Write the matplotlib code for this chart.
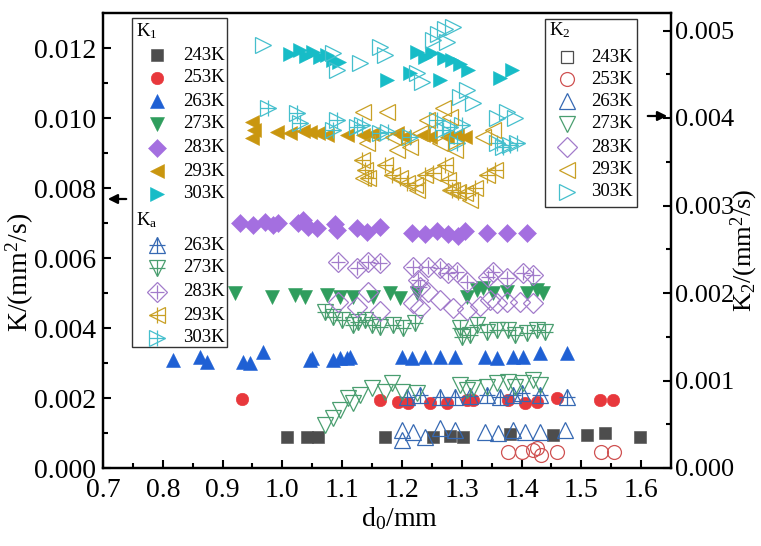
import numpy as np
import matplotlib
matplotlib.use("Agg")
import matplotlib.pyplot as plt
from matplotlib.patches import Rectangle

plt.rcParams['font.family'] = ['Liberation Serif', 'DejaVu Serif']
plt.rcParams['mathtext.fontset'] = 'custom'
plt.rcParams['mathtext.rm'] = 'Liberation Serif'
plt.rcParams['mathtext.it'] = 'Liberation Serif:italic'

temps = ['243K', '253K', '263K', '273K', '283K', '293K', '303K']

# ---- K1 (left axis, filled markers) ----
k1_243_x = [1.008, 1.041, 1.060, 1.172, 1.252, 1.280, 1.302, 1.381, 1.452, 1.509, 1.539, 1.598]
k1_243_y = [0.00089, 0.00089, 0.00089, 0.00089, 0.00089, 0.00091, 0.00089, 0.00097, 0.00094, 0.00094, 0.00100, 0.00089]
k1_253_x = [0.932, 1.163, 1.193, 1.210, 1.247, 1.275, 1.309, 1.319, 1.377, 1.406, 1.426, 1.459, 1.531, 1.553]
k1_253_y = [0.00197, 0.00194, 0.00189, 0.00186, 0.00186, 0.00186, 0.00194, 0.00194, 0.00194, 0.00186, 0.00189, 0.00200, 0.00194, 0.00194]
k1_263_x = [0.817, 0.862, 0.874, 0.934, 0.946, 0.968, 1.046, 1.049, 1.085, 1.096, 1.108, 1.113, 1.200, 1.217, 1.238, 1.264, 1.289, 1.339, 1.359, 1.386, 1.402, 1.431, 1.476]
k1_263_y = [0.00309, 0.00317, 0.00303, 0.00303, 0.00300, 0.00331, 0.00309, 0.00314, 0.00309, 0.00314, 0.00314, 0.00317, 0.00317, 0.00314, 0.00317, 0.00317, 0.00317, 0.00317, 0.00314, 0.00317, 0.00317, 0.00329, 0.00329]
k1_273_x = [0.921, 0.983, 1.021, 1.038, 1.075, 1.096, 1.118, 1.151, 1.180, 1.197, 1.225, 1.309, 1.325, 1.335, 1.352, 1.376, 1.409, 1.426, 1.436]
k1_273_y = [0.00500, 0.00489, 0.00494, 0.00489, 0.00494, 0.00489, 0.00489, 0.00489, 0.00500, 0.00486, 0.00500, 0.00489, 0.00509, 0.00514, 0.00500, 0.00503, 0.00500, 0.00509, 0.00500]
k1_283_x = [0.929, 0.951, 0.971, 0.984, 0.993, 1.026, 1.034, 1.043, 1.058, 1.088, 1.091, 1.125, 1.141, 1.163, 1.217, 1.238, 1.259, 1.277, 1.294, 1.305, 1.342, 1.376, 1.409]
k1_283_y = [0.00700, 0.00694, 0.00703, 0.00694, 0.00700, 0.00700, 0.00709, 0.00689, 0.00686, 0.00697, 0.00680, 0.00686, 0.00674, 0.00689, 0.00671, 0.00669, 0.00677, 0.00669, 0.00663, 0.00677, 0.00671, 0.00671, 0.00671]
k1_293_x = [0.949, 0.953, 0.949, 0.991, 1.013, 1.034, 1.046, 1.060, 1.075, 1.108, 1.135, 1.150, 1.192, 1.203, 1.235, 1.247, 1.275, 1.292, 1.305]
k1_293_y = [0.00989, 0.00966, 0.00943, 0.00960, 0.00957, 0.00963, 0.00960, 0.00957, 0.00951, 0.00951, 0.00951, 0.00954, 0.00957, 0.00946, 0.00951, 0.00946, 0.00946, 0.00951, 0.00946]
k1_303_x = [1.013, 1.029, 1.039, 1.051, 1.063, 1.075, 1.085, 1.095, 1.175, 1.213, 1.225, 1.238, 1.250, 1.264, 1.270, 1.284, 1.297, 1.310, 1.364, 1.384]
k1_303_y = [0.01183, 0.01194, 0.01177, 0.01189, 0.01174, 0.01180, 0.01166, 0.01160, 0.01109, 0.01129, 0.01189, 0.01174, 0.01186, 0.01109, 0.01171, 0.01166, 0.01154, 0.01137, 0.01114, 0.01137]

# ---- Ka (left axis, hollow markers with cross) ----
ka_263_x = [1.208, 1.230, 1.264, 1.289, 1.314, 1.342, 1.364, 1.386, 1.401, 1.431, 1.476]
ka_263_y = [0.00203, 0.00209, 0.00203, 0.00203, 0.00206, 0.00209, 0.00203, 0.00209, 0.00214, 0.00209, 0.00203]
ka_273_x = [1.071, 1.085, 1.100, 1.118, 1.126, 1.138, 1.150, 1.163, 1.185, 1.202, 1.222, 1.297, 1.300, 1.314, 1.325, 1.342, 1.359, 1.377, 1.389, 1.409, 1.426, 1.439]
ka_273_y = [0.00446, 0.00431, 0.00423, 0.00409, 0.00417, 0.00423, 0.00409, 0.00403, 0.00409, 0.00400, 0.00414, 0.00400, 0.00374, 0.00380, 0.00409, 0.00389, 0.00394, 0.00394, 0.00380, 0.00386, 0.00394, 0.00389]
ka_283_x = [1.093, 1.125, 1.143, 1.163, 1.218, 1.227, 1.230, 1.243, 1.264, 1.277, 1.292, 1.309, 1.344, 1.352, 1.376, 1.402, 1.419]
ka_283_y = [0.00589, 0.00571, 0.00589, 0.00586, 0.00574, 0.00537, 0.00517, 0.00574, 0.00571, 0.00557, 0.00560, 0.00531, 0.00546, 0.00560, 0.00543, 0.00557, 0.00551]
ka_293_x = [1.133, 1.138, 1.143, 1.172, 1.183, 1.197, 1.208, 1.222, 1.238, 1.252, 1.272, 1.277, 1.284, 1.294, 1.305, 1.322, 1.342, 1.356]
ka_293_y = [0.00880, 0.00851, 0.00829, 0.00866, 0.00837, 0.00829, 0.00814, 0.00809, 0.00837, 0.00843, 0.00866, 0.00823, 0.00794, 0.00789, 0.00786, 0.00800, 0.00837, 0.00851]
ka_303_x = [0.976, 1.024, 1.029, 1.085, 1.091, 1.125, 1.133, 1.163, 1.177, 1.213, 1.259, 1.269, 1.280, 1.292, 1.300, 1.359, 1.369, 1.381, 1.392]
ka_303_y = [0.01029, 0.01014, 0.00986, 0.00966, 0.00994, 0.00974, 0.00980, 0.00957, 0.00960, 0.00946, 0.00994, 0.00966, 0.00974, 0.00929, 0.00980, 0.00929, 0.00917, 0.00923, 0.00929]

# ---- K2 (right axis, hollow markers) ----
k2_243_x = []
k2_243_y = []
k2_253_x = [1.377, 1.401, 1.419, 1.426, 1.432, 1.459, 1.533, 1.555]
k2_253_y = [0.00018, 0.00018, 0.00021, 0.00023, 0.00015, 0.00018, 0.00018, 0.00018]
k2_263_x = [1.200, 1.200, 1.218, 1.238, 1.264, 1.289, 1.339, 1.361, 1.386, 1.406, 1.431, 1.473]
k2_263_y = [0.00043, 0.00032, 0.00041, 0.00035, 0.00046, 0.00043, 0.00041, 0.00040, 0.00043, 0.00041, 0.00041, 0.00043]
k2_273_x = [1.071, 1.085, 1.096, 1.110, 1.118, 1.130, 1.150, 1.172, 1.183, 1.200, 1.225, 1.297, 1.309, 1.319, 1.342, 1.359, 1.377, 1.389, 1.402, 1.419, 1.431]
k2_273_y = [0.00049, 0.00057, 0.00066, 0.00080, 0.00074, 0.00083, 0.00091, 0.00087, 0.00097, 0.00087, 0.00086, 0.00095, 0.00089, 0.00091, 0.00093, 0.00097, 0.00098, 0.00093, 0.00097, 0.00101, 0.00095]
k2_283_x = [1.093, 1.125, 1.143, 1.163, 1.218, 1.230, 1.243, 1.264, 1.285, 1.309, 1.330, 1.347, 1.359, 1.376, 1.397, 1.419]
k2_283_y = [0.00190, 0.00184, 0.00201, 0.00179, 0.00189, 0.00183, 0.00201, 0.00192, 0.00183, 0.00181, 0.00185, 0.00192, 0.00189, 0.00190, 0.00190, 0.00189]
k2_293_x = [1.135, 1.141, 1.175, 1.185, 1.192, 1.213, 1.230, 1.242, 1.264, 1.269, 1.280, 1.289, 1.335, 1.352, 1.135, 1.280, 1.314, 1.225]
k2_293_y = [0.00407, 0.00371, 0.00407, 0.00378, 0.00363, 0.00367, 0.00383, 0.00398, 0.00371, 0.00411, 0.00401, 0.00363, 0.00378, 0.00386, 0.00331, 0.00318, 0.00306, 0.00318]
k2_303_x = [0.968, 1.085, 1.091, 1.130, 1.163, 1.172, 1.225, 1.233, 1.252, 1.260, 1.272, 1.285, 1.275, 1.297, 1.309, 1.319, 1.359, 1.376, 1.389]
k2_303_y = [0.00483, 0.00474, 0.00455, 0.00463, 0.00481, 0.00472, 0.00451, 0.00441, 0.00489, 0.00496, 0.00502, 0.00504, 0.00487, 0.00424, 0.00432, 0.00417, 0.00400, 0.00407, 0.00400]

x_ticks = [0.7, 0.8, 0.9, 1.0, 1.1, 1.2, 1.3, 1.4, 1.5, 1.6]
y1_ticks = [0.000, 0.002, 0.004, 0.006, 0.008, 0.010, 0.012]
y2_ticks = [0.000, 0.001, 0.002, 0.003, 0.004, 0.005]

# ---- styles ----
markers = {'243K': 's', '253K': 'o', '263K': '^', '273K': 'v', '283K': 'D', '293K': '<', '303K': '>'}
fill_col = {'243K': '#4d4d4d', '253K': '#e8383c', '263K': '#1f60d4', '273K': '#2f9d5d',
            '283K': '#a46fe0', '293K': '#c9960f', '303K': '#17bcc7'}
line_col = {'243K': '#4d4d4d', '253K': '#cf5252', '263K': '#3669b3', '273K': '#4a9e70',
            '283K': '#a27bcb', '293K': '#c9a025', '303K': '#45bfcd'}
fill_ms = {'243K': 8, '253K': 9, '263K': 10.5, '273K': 10.5, '283K': 9.5, '293K': 10.5, '303K': 10.5}
open_ms = {'243K': 9, '253K': 10, '263K': 12, '273K': 12, '283K': 10.5, '293K': 12, '303K': 12}

k1 = {'243K': (k1_243_x, k1_243_y), '253K': (k1_253_x, k1_253_y), '263K': (k1_263_x, k1_263_y),
      '273K': (k1_273_x, k1_273_y), '283K': (k1_283_x, k1_283_y), '293K': (k1_293_x, k1_293_y),
      '303K': (k1_303_x, k1_303_y)}
ka = {'263K': (ka_263_x, ka_263_y), '273K': (ka_273_x, ka_273_y), '283K': (ka_283_x, ka_283_y),
      '293K': (ka_293_x, ka_293_y), '303K': (ka_303_x, ka_303_y)}
k2 = {'243K': (k2_243_x, k2_243_y), '253K': (k2_253_x, k2_253_y), '263K': (k2_263_x, k2_263_y),
      '273K': (k2_273_x, k2_273_y), '283K': (k2_283_x, k2_283_y), '293K': (k2_293_x, k2_293_y),
      '303K': (k2_303_x, k2_303_y)}


def draw_filled(axis, x, y, t, **kw):
    axis.plot(x, y, ls='none', marker=markers[t], ms=fill_ms[t],
              mfc=fill_col[t], mec=fill_col[t], mew=0.4, **kw)


def draw_open(axis, x, y, t, cross=False, **kw):
    axis.plot(x, y, ls='none', marker=markers[t], ms=open_ms[t],
              mfc='none', mec=line_col[t], mew=0.9, **kw)
    if cross:
        axis.plot(x, y, ls='none', marker='+', ms=open_ms[t] * 0.95,
                  mec=line_col[t], mew=0.9, **kw)


W, H = 761, 546
fig = plt.figure(figsize=(W / 100, H / 100), dpi=100)
L, R, T, B = 103, 671, 13, 468
ax = fig.add_axes([L / W, 1 - B / H, (R - L) / W, (B - T) / H])
ax2 = ax.twinx()

for t in temps:
    draw_filled(ax, *k1[t], t)
for t in ka:
    draw_open(ax, *ka[t], t, cross=True)
for t in temps:
    if len(k2[t][0]):
        draw_open(ax2, *k2[t], t)

ax.set_xlim(0.7, 1.65)
ax.set_ylim(0, 0.013)
ax2.set_ylim(0, 0.0052)

ax.set_xticks(x_ticks)
ax.set_xticks(np.arange(0.75, 1.65, 0.1), minor=True)
ax.set_xticklabels([f'{v:.1f}' for v in x_ticks])
ax.set_yticks(y1_ticks)
ax.set_yticks(np.arange(0.001, 0.013, 0.002), minor=True)
ax.set_yticklabels([f'{v:.3f}' for v in y1_ticks])
ax2.set_yticks(y2_ticks)
ax2.set_yticks(np.arange(0.0005, 0.0052, 0.001), minor=True)
ax2.set_yticklabels([f'{v:.3f}' for v in y2_ticks])

for a in (ax, ax2):
    for s in a.spines.values():
        s.set_linewidth(1.6)
ax.tick_params(axis='both', which='major', direction='in', length=6, width=1.5, labelsize=20, pad=5)
ax.tick_params(axis='x', which='major', pad=7)
ax.tick_params(axis='both', which='minor', direction='in', length=3.5, width=1.5)
ax.tick_params(top=False, right=False, which='both')
ax2.tick_params(axis='y', which='major', direction='in', length=6, width=1.5, labelsize=19, pad=3)
ax2.tick_params(axis='y', which='minor', direction='in', length=3.5, width=1.5)

ax.set_xlabel('d$_0$/mm', fontsize=20)
ax.xaxis.set_label_coords((400 - L) / (R - L), (B - 505) / (B - T))
ax.set_ylabel('K/(mm$^2$/s)', fontsize=20)
ax.yaxis.set_label_coords((36 - L) / (R - L), (B - 272) / (B - T))
ax2.set_ylabel('K$_2$/(mm$^2$/s)', fontsize=19)
ax2.yaxis.set_label_coords((729 - L) / (R - L), (B - 250) / (B - T))

# ---- overlay in pixel coordinates for legends and arrows ----
ov = fig.add_axes([0, 0, 1, 1], zorder=10)
ov.set_xlim(0, W)
ov.set_ylim(H, 0)
ov.axis('off')
ov.patch.set_alpha(0)

leg_fs = 13.5
# left legend: K1 and Ka
ov.add_patch(Rectangle((132, 18), 95, 329, facecolor='white', edgecolor='#333333', lw=1.0))
ov.text(136, 31, 'K$_1$', fontsize=leg_fs, va='center', ha='left')
rows1 = [55, 78, 101, 124, 148, 171, 194]
for t, yy in zip(temps, rows1):
    draw_filled(ov, [157], [yy], t, clip_on=False)
    ov.text(183, yy, t, fontsize=leg_fs, va='center', ha='left')
ov.text(136, 220, 'K$_\\mathrm{a}$', fontsize=leg_fs, va='center', ha='left')
rows_a = [245, 268, 292, 315, 338]
for t, yy in zip(list(ka.keys()), rows_a):
    draw_open(ov, [157], [yy], t, cross=True, clip_on=False)
    ov.text(183, yy, t, fontsize=leg_fs, va='center', ha='left')

# right legend: K2
ov.add_patch(Rectangle((545, 19), 92, 188, facecolor='white', edgecolor='#333333', lw=1.0))
ov.text(549, 30, 'K$_2$', fontsize=leg_fs, va='center', ha='left')
rows2 = [57, 79, 101, 124, 147, 170, 192]
for t, yy in zip(temps, rows2):
    draw_open(ov, [567], [yy], t, clip_on=False)
    ov.text(591, yy, t, fontsize=leg_fs, va='center', ha='left')

# axis indicator arrows
ov.annotate('', xy=(105, 199), xytext=(129, 199),
            arrowprops=dict(arrowstyle='-|>', color='black', lw=1.6, mutation_scale=14))
ov.annotate('', xy=(670, 116), xytext=(645, 116),
            arrowprops=dict(arrowstyle='-|>', color='black', lw=1.6, mutation_scale=14))

fig.savefig('out.png', dpi=100)
